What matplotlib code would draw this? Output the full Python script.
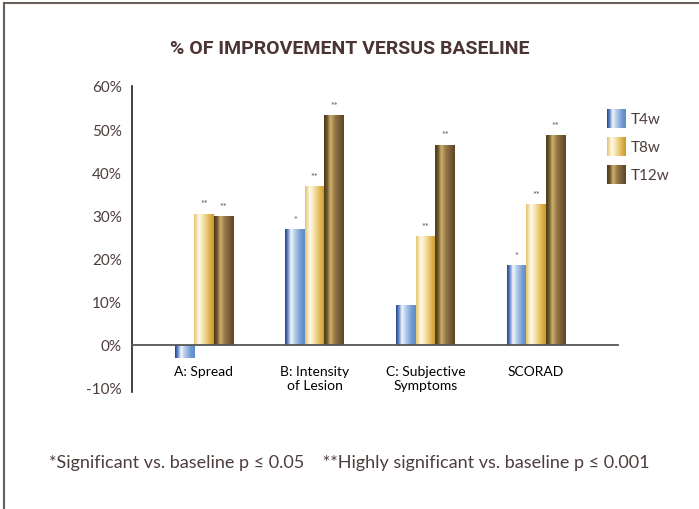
import numpy as np
import matplotlib.pyplot as plt
from matplotlib.colors import LinearSegmentedColormap
from matplotlib.lines import Line2D

# data
categories = ['A: Spread', 'B: Intensity\nof Lesion', 'C: Subjective\nSymptoms', 'SCORAD']
series = ['T4w', 'T8w', 'T12w']
t4w = [-3.0, 26.8, 9.2, 18.5]
t8w = [30.4, 36.8, 25.2, 32.6]
t12w = [29.9, 53.2, 46.4, 48.6]
stars_t4w = ['', '*', '', '*']
stars_t8w = ['**', '**', '**', '**']
stars_t12w = ['**', '**', '**', '**']
yticks = [-10, 0, 10, 20, 30, 40, 50, 60]

txt = '#4d3d3d'
plt.rcParams['font.family'] = ['Lato', 'DejaVu Sans']

# horizontal "metallic" gradients for the bars
cm_blue = LinearSegmentedColormap.from_list('b', [
    (0.0, '#23438f'), (0.12, '#5a7fc0'), (0.3, '#f2f6fc'),
    (0.5, '#b4cbea'), (0.8, '#7099d2'), (1.0, '#5f8bc8')])
cm_gold = LinearSegmentedColormap.from_list('g', [
    (0.0, '#e6c36a'), (0.25, '#fffbef'), (0.45, '#f6e4ac'),
    (0.8, '#deb24c'), (1.0, '#c9992f')])
cm_brown = LinearSegmentedColormap.from_list('br', [
    (0.0, '#4b3a1a'), (0.15, '#6e5628'), (0.32, '#cdb06e'),
    (0.55, '#967645'), (0.85, '#6f5531'), (1.0, '#5c4526')])
cmaps = [cm_blue, cm_gold, cm_brown]
grad = np.linspace(0, 1, 64).reshape(1, -1)

fig = plt.figure(figsize=(6.99, 5.10), dpi=100)
ax = fig.add_axes([131.7 / 699, 1 - 393 / 510, (618 - 131.7) / 699, 306 / 510])

x = np.arange(len(categories))
w = 0.176
for i, (vals, stars, cmap) in enumerate(zip([t4w, t8w, t12w],
                                             [stars_t4w, stars_t8w, stars_t12w], cmaps)):
    bars = ax.bar(x + (i - 1) * w, vals, w, facecolor='none', edgecolor='none', zorder=2)
    for b, s in zip(bars, stars):
        x0, y0, bw, bh = b.get_x(), b.get_y(), b.get_width(), b.get_height()
        im = ax.imshow(grad, cmap=cmap, aspect='auto', zorder=2,
                       extent=[x0, x0 + bw, min(y0, y0 + bh), max(y0, y0 + bh)])
        im.set_clip_path(b)
        if s:
            ax.text(x0 + bw / 2, y0 + bh + 1.2, s, ha='center', va='bottom',
                    fontsize=6.5, color='#555555')

ax.set_xlim(-0.651, 3.739)
ax.set_ylim(-11, 60)
ax.set_yticks(yticks)
ax.set_yticklabels([f'{v}%' for v in yticks], fontsize=11, color=txt)
ax.set_xticks(x)
ax.set_xticklabels(categories, fontsize=11, color=txt, linespacing=1.15)
ax.tick_params(length=0)
ax.tick_params(axis='y', pad=7)
ax.tick_params(axis='x', pad=15)
ax.spines['top'].set_visible(False)
ax.spines['right'].set_visible(False)
ax.spines['bottom'].set_position(('data', 0))
ax.spines['bottom'].set_color('#555555')
ax.spines['bottom'].set_linewidth(1.3)
ax.spines['bottom'].set_zorder(3)
ax.spines['left'].set_color('#222222')
ax.spines['left'].set_linewidth(1.2)

# legend with gradient swatches
for i, (name, cmap) in enumerate(zip(series, cmaps)):
    top = 110 + i * 28
    sw = fig.add_axes([607 / 699, 1 - (top + 19) / 510, 19 / 699, 19 / 510])
    sw.imshow(grad, cmap=cmap, aspect='auto')
    sw.axis('off')
    fig.text(631 / 699, 1 - (top + 9.5) / 510, name, fontsize=11, color=txt, va='center')

fig.text(0.5, 1 - 49 / 510, '% OF IMPROVEMENT VERSUS BASELINE', ha='center', va='center',
         fontsize=14, fontweight='bold', color='#4a3434', family=['Roboto', 'DejaVu Sans'])
fig.text(0.5, 1 - 463 / 510,
         '*Significant vs. baseline p \u2264 0.05    **Highly significant vs. baseline p \u2264 0.001',
         ha='center', va='center', fontsize=13, color=txt)

# frame of the panel (top and left edges)
fig.add_artist(Line2D([4 / 699, 1], [1 - 4 / 510, 1 - 4 / 510], transform=fig.transFigure,
                      color='#6b5e58', lw=1.5))
fig.add_artist(Line2D([4 / 699, 4 / 699], [0, 1 - 4 / 510], transform=fig.transFigure,
                      color='#6b5e58', lw=1.5))

fig.savefig('out.png', dpi=100)
